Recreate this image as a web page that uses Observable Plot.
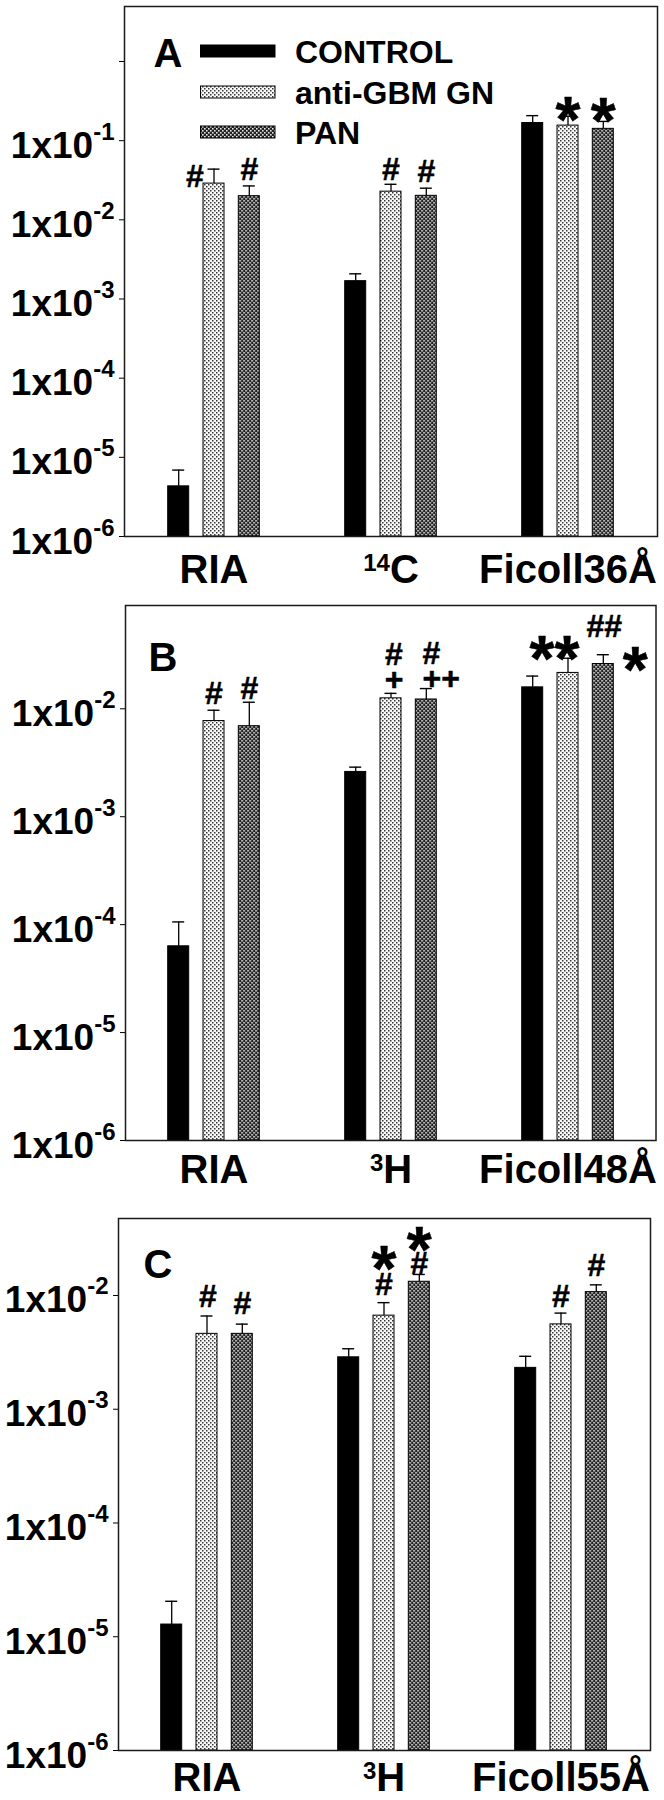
<!DOCTYPE html>
<html>
<head>
<meta charset="utf-8">
<script src="https://cdn.jsdelivr.net/npm/d3@7"></script>
<script src="https://cdn.jsdelivr.net/npm/@observablehq/plot@0.6"></script>
<style>
  html, body { margin: 0; padding: 0; background: #fff; }
  #wrap { position: relative; width: 664px; height: 1800px; overflow: hidden; background: #fff; }
  #wrap svg.pl { display: block; }
</style>
</head>
<body>
<svg width="0" height="0" style="position:absolute">
  <defs>
    <pattern id="pLight" width="4" height="4" patternUnits="userSpaceOnUse">
      <rect width="4" height="4" fill="#fafafa"/>
      <rect x="0" y="0" width="1.5" height="1.5" fill="#333"/>
      <rect x="2" y="2" width="1.5" height="1.5" fill="#333"/>
    </pattern>
    <pattern id="pDark" width="4" height="4" patternUnits="userSpaceOnUse">
      <rect width="4" height="4" fill="#222"/>
      <rect x="0" y="0" width="1.6" height="1.6" fill="#e8e8e8"/>
      <rect x="2" y="2" width="1.6" height="1.6" fill="#e8e8e8"/>
    </pattern>
  </defs>
</svg>
<div id="wrap"></div>
<script>
// ---------------- data ----------------
const series = ["CONTROL", "anti-GBM GN", "PAN"];

const groupsA = ["RIA", "14C", "Ficoll36Å"];
const meanA = [[4.3e-6, 0.0287, 0.0199], [1.68e-3, 0.0227, 0.0201], [0.167, 0.155, 0.141]];
const errA  = [[2.6e-6, 0.0150, 0.0069], [0.40e-3, 0.0054, 0.0050], [0.040, 0.048, 0.034]];
const yTicksA = [1e-6, 1e-5, 1e-4, 1e-3, 1e-2, 1e-1, 1e0];
const yLabelsA = ["1x10^-6", "1x10^-5", "1x10^-4", "1x10^-3", "1x10^-2", "1x10^-1", ""];
const notesA = [
  {g: "RIA", s: "anti-GBM GN", t: "#"},
  {g: "RIA", s: "PAN", t: "#"},
  {g: "14C", s: "anti-GBM GN", t: "#"},
  {g: "14C", s: "PAN", t: "#"},
  {g: "Ficoll36Å", s: "anti-GBM GN", t: "*"},
  {g: "Ficoll36Å", s: "PAN", t: "*"}
];

const groupsB = ["RIA", "3H", "Ficoll48Å"];
const meanB = [[6.3e-5, 7.7e-3, 6.9e-3], [2.6e-3, 0.0125, 0.0122], [0.0158, 0.0215, 0.0260]];
const errB  = [[4.3e-5, 2.0e-3, 4.6e-3], [0.28e-3, 1.4e-3, 3.2e-3], [4.3e-3, 7.9e-3, 5.7e-3]];
const yTicksB = [1e-6, 1e-5, 1e-4, 1e-3, 1e-2];
const yLabelsB = ["1x10^-6", "1x10^-5", "1x10^-4", "1x10^-3", "1x10^-2"];
const notesB = [
  {g: "RIA", s: "anti-GBM GN", t: "#"},
  {g: "RIA", s: "PAN", t: "#"},
  {g: "3H", s: "anti-GBM GN", t: "#"},
  {g: "3H", s: "anti-GBM GN", t: "+"},
  {g: "3H", s: "PAN", t: "#"},
  {g: "3H", s: "PAN", t: "++"},
  {g: "Ficoll48Å", s: "anti-GBM GN", t: "**"},
  {g: "Ficoll48Å", s: "PAN", t: "*"},
  {g: "Ficoll48Å", s: "PAN", t: "##"}
];

const groupsC = ["RIA", "3H", "Ficoll55Å"];
const meanC = [[1.28e-5, 4.6e-3, 4.6e-3], [2.86e-3, 6.65e-3, 0.0132], [2.31e-3, 5.57e-3, 0.0107]];
const errC  = [[7.7e-6, 2.0e-3, 1.0e-3], [0.54e-3, 2.0e-3, 2.1e-3], [0.61e-3, 1.43e-3, 1.7e-3]];
const yTicksC = [1e-6, 1e-5, 1e-4, 1e-3, 1e-2];
const yLabelsC = ["1x10^-6", "1x10^-5", "1x10^-4", "1x10^-3", "1x10^-2"];
const notesC = [
  {g: "RIA", s: "anti-GBM GN", t: "#"},
  {g: "RIA", s: "PAN", t: "#"},
  {g: "3H", s: "anti-GBM GN", t: "#"},
  {g: "3H", s: "anti-GBM GN", t: "*"},
  {g: "3H", s: "PAN", t: "#"},
  {g: "3H", s: "PAN", t: "*"},
  {g: "Ficoll55Å", s: "anti-GBM GN", t: "#"},
  {g: "Ficoll55Å", s: "PAN", t: "#"}
];

// ---------------- layout / style (not data) ----------------
// [dx from bar centre, glyph-centre offset from error-bar top] in px
const placeA = [[-19, 7], [0, -17], [0, -16], [0, -18], [0, -11], [0, -15]];
const placeB = [[0, -18], [0, -15], [3, -40], [3, -14], [5, -36], [15, -11], [-13.5, -14], [32, 0], [1, -29]];
const placeC = [[1, -20], [0, -21], [0, -19], [0, -48], [0, -12], [0, -39], [0, -17], [0, -20]];

const FONT = "'Liberation Sans', Arial, Helvetica, sans-serif";
const fills = ["#000", "url(#pLight)", "url(#pDark)"];
const seriesStep = 35.3;
const offs = [-seriesStep, 0, seriesStep];
const registry = [];

function glyphStyle(t) {
  const c = t[0];
  if (c === "*") return {fs: 64, base: 0.575};
  if (c === "+") return {fs: 32, base: 0.345};
  return {fs: 32, base: 0.355};
}

function panel(cfg) {
  const {groups, mean, err, notes, place, ticks, labels, domain, letter,
         height, mt, mb, ml, mr, xlabDy, letterDx, letterDy} = cfg;
  const rows = [];
  groups.forEach((g, i) => series.forEach((s, j) =>
    rows.push({g, s, j, v: mean[i][j], top: mean[i][j] + err[i][j]})));
  const marks = [];
  series.forEach((s, j) => {
    const d = rows.filter(r => r.j === j);
    marks.push(Plot.ruleX(d, {x: "g", y1: "v", y2: "top", dx: offs[j], stroke: "#000", strokeWidth: 1.3}));
    marks.push(Plot.tickY(d, {x: "g", y: "top", dx: offs[j], insetLeft: 4.5, insetRight: 4.5, stroke: "#000", strokeWidth: 1.4}));
    marks.push(Plot.barY(d, {x: "g", y1: domain[0], y2: "v", dx: offs[j], fill: fills[j], stroke: "#000", strokeWidth: 1}));
  });
  // annotations: notes on the same bar are combined into one text element
  const stacks = new Map();
  notes.forEach((n, k) => {
    const key = n.g + "|" + n.s;
    if (!stacks.has(key)) stacks.set(key, []);
    const gs = glyphStyle(n.t);
    stacks.get(key).push({t: n.t, fs: gs.fs, dx: place[k][0], by: place[k][1] + gs.base * gs.fs});
  });
  stacks.forEach((lines, key) => {
    const [g, s] = key.split("|");
    const r = rows.find(r => r.g === g && r.s === s);
    const j = series.indexOf(s);
    const ref = lines[0];
    const id = registry.push(lines) - 1;
    marks.push(Plot.text([{...r, t: "§" + id}], {
      x: "g", y: "top", text: "t", dx: offs[j] + ref.dx, dy: ref.by,
      lineAnchor: "bottom", textAnchor: "middle", fontSize: ref.fs, fontWeight: "bold",
      fill: "#000", stroke: "#000", strokeWidth: 0.5
    }));
  });
  // y tick labels
  marks.push(Plot.text(ticks.map((t, i) => ({t, lab: labels[i]})).filter(d => d.lab), {
    y: "t", text: "lab", frameAnchor: "left", textAnchor: "end", lineAnchor: "bottom",
    dx: -10, dy: 17, fontSize: 37, fill: "#000"
  }));
  // x category labels
  marks.push(Plot.text(groups, {
    x: d => d, text: d => d.replace(/^(\d+)/, "^$1"), frameAnchor: "bottom",
    lineAnchor: "bottom", textAnchor: "middle", dy: xlabDy, fontSize: 40, fill: "#000"
  }));
  // panel letter
  marks.push(Plot.text([letter], {
    text: d => d, frameAnchor: "top-left", textAnchor: "start", lineAnchor: "bottom",
    dx: letterDx, dy: letterDy, fontSize: 40, fill: "#000"
  }));
  marks.push(Plot.frame({stroke: "#1a1a1a", strokeWidth: 1.5}));

  const svg = Plot.plot({
    width: 664, height, marginTop: mt, marginBottom: mb, marginLeft: ml, marginRight: mr,
    style: {fontFamily: FONT, fontWeight: "bold", background: "transparent", color: "#000", overflow: "visible"},
    x: {type: "band", domain: groups, paddingInner: 0.879, paddingOuter: 0.437, axis: null},
    y: {type: "log", domain, ticks, tickFormat: () => "", tickSize: 5, tickPadding: 2, label: null},
    marks
  });
  svg.classList.add("pl");
  postText(svg);
  return svg;
}

function postText(svg) {
  const ns = "http://www.w3.org/2000/svg";
  svg.querySelectorAll("text").forEach(t => {
    if (t.querySelector("tspan")) return;
    const s = t.textContent;
    const st = s.match(/^§(\d+)$/);
    if (st) {
      const lines = registry[+st[1]];
      const ref = lines[0];
      const bx = parseFloat(t.getAttribute("x")) || 0;
      const by = parseFloat(t.getAttribute("y")) || 0;
      // order: single-glyph lines first, a multi-glyph line (if any) last
      const ord = lines.slice().sort((a, b) => a.t.length - b.t.length);
      const sameSize = lines.every(l => l.fs === ref.fs);
      const simple = ord.slice(0, -1).every(l => l.t.length === 1);
      if (sameSize && simple) {
        t.textContent = ord.map(l => l.t).join("");
        t.setAttribute("x", ord.map(l => bx + l.dx - ref.dx).join(" "));
        t.setAttribute("y", ord.map(l => by + l.by - ref.by).join(" "));
      } else {
        t.textContent = "";
        lines.forEach(l => {
          const sp = document.createElementNS(ns, "tspan");
          sp.setAttribute("x", bx + (l.dx - ref.dx));
          sp.setAttribute("y", by + (l.by - ref.by));
          sp.setAttribute("font-size", l.fs);
          sp.textContent = l.t;
          t.appendChild(sp);
        });
      }
      return;
    }
    const m = s.match(/^(.*?)\^([-\d]+)(.*)$/);
    if (!m) return;
    const isY = m[1].length > 0;
    const supSize = 24;
    const raise = isY ? 18 : 12;
    t.textContent = "";
    if (m[1]) {
      const a = document.createElementNS(ns, "tspan");
      a.textContent = m[1];
      t.appendChild(a);
    }
    const b = document.createElementNS(ns, "tspan");
    b.setAttribute("font-size", supSize);
    b.setAttribute("dy", -raise);
    b.textContent = m[2];
    t.appendChild(b);
    if (m[3]) {
      const c = document.createElementNS(ns, "tspan");
      c.setAttribute("dy", raise);
      c.textContent = m[3];
      t.appendChild(c);
    }
  });
}

const wrap = document.getElementById("wrap");

wrap.appendChild(panel({
  groups: groupsA, mean: meanA, err: errA, notes: notesA, place: placeA,
  ticks: yTicksA, labels: yLabelsA, domain: [1e-6, 4.95], letter: "A",
  height: 598, mt: 6, mb: 62, ml: 124, mr: 7, xlabDy: 46, letterDx: 29, letterDy: 60
}));
wrap.appendChild(panel({
  groups: groupsB, mean: meanB, err: errB, notes: notesB, place: placeB,
  ticks: yTicksB, labels: yLabelsB, domain: [1e-6, 0.0906], letter: "B",
  height: 614, mt: 7, mb: 72, ml: 125, mr: 8.5, xlabDy: 42, letterDx: 23, letterDy: 65
}));
wrap.appendChild(panel({
  groups: groupsC, mean: meanC, err: errC, notes: notesC, place: placeC,
  ticks: yTicksC, labels: yLabelsC, domain: [1e-6, 0.0475], letter: "C",
  height: 588, mt: 6, mb: 50, ml: 118, mr: 14, xlabDy: 40, letterDx: 25, letterDy: 59
}));

// legend (inside panel A, top-left)
const legRowY = [51, 92, 132];
const leg = d3.create("svg")
  .attr("width", 664).attr("height", 160)
  .style("position", "absolute").style("left", "0px").style("top", "0px")
  .style("font-family", FONT).style("font-weight", "bold");
series.forEach((s, j) => {
  leg.append("rect")
    .attr("x", 200.5).attr("y", legRowY[j] - 6).attr("width", 74.5).attr("height", 12)
    .attr("fill", fills[j]).attr("stroke", "#000").attr("stroke-width", 1);
  leg.append("text")
    .attr("x", 295).attr("y", legRowY[j] + 11.5).attr("font-size", 32).attr("fill", "#000")
    .text(s);
});
wrap.appendChild(leg.node());
</script>
</body>
</html>
